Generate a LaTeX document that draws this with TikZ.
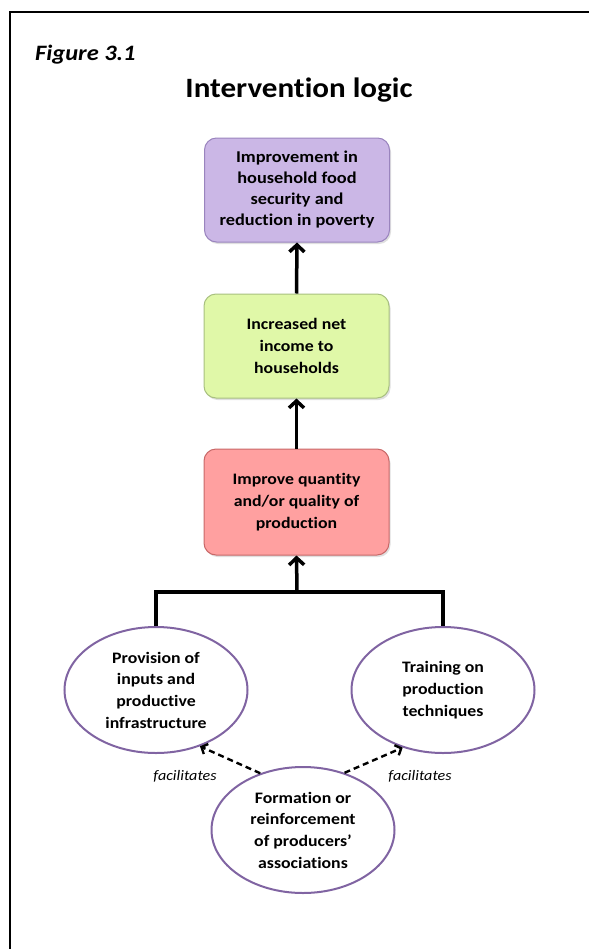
\documentclass[tikz,border=0pt]{standalone}
\usepackage{fontspec}
\setmainfont{Carlito}[FakeStretch=1.11,Ligatures=NoCommon]
\usetikzlibrary{arrows.meta,shapes.geometric,shadows}
\definecolor{purfill}{HTML}{CBB7E6}
\definecolor{purline}{HTML}{9A84BE}
\definecolor{grnfill}{HTML}{E0F8A8}
\definecolor{grnline}{HTML}{A8C080}
\definecolor{redfill}{HTML}{FFA0A0}
\definecolor{redline}{HTML}{C86868}
\definecolor{ellline}{HTML}{8064A2}
\begin{document}
\begin{tikzpicture}[x=1bp,y=-1bp,
  boxstyle/.style={rectangle, rounded corners=12bp, line width=1bp, minimum width=185bp, minimum height=105bp, align=center, inner sep=0pt,
     font=\fontsize{16bp}{21.7bp}\selectfont\bfseries, drop shadow={opacity=0.25, shadow xshift=1.5bp, shadow yshift=-2bp}},
  ellstyle/.style={ellipse, draw=ellline, fill=white, line width=2bp, minimum width=183bp, minimum height=126bp, align=center, inner sep=0pt,
     font=\fontsize{16bp}{21.7bp}\selectfont\bfseries},
  mainarrow/.style={line width=3.5bp, -{Straight Barb[length=7bp,width=15bp]}},
  bracketline/.style={line width=3.5bp},
  dasharrow/.style={line width=2.4bp, dash pattern=on 6bp off 4bp, -{Straight Barb[length=5bp,width=11bp]}},
  labelstyle/.style={font=\fontsize{14.5bp}{16bp}\selectfont\itshape}
]
\useasboundingbox (0,0) rectangle (589,949);
\draw[line width=1.5bp] (10,949) -- (10,12) -- (589,12);

\node[anchor=base west, inner sep=0pt, font=\fontsize{22bp}{26bp}\selectfont\bfseries\itshape] (fig) at (35,60) {Figure 3.1};
\node[anchor=base, font=\fontsize{28bp}{32bp}\selectfont\bfseries] (title) at (299,97) {Intervention logic};

\node[boxstyle, fill=purfill, draw=purline, minimum height=104bp, font=\fontsize{16.5bp}{21bp}\selectfont\bfseries] (goal) at (297,190)
  {Improvement in\\household food\\security and\\reduction in poverty};
\node[boxstyle, fill=grnfill, draw=grnline, minimum height=104bp] (income) at (296.5,346)
  {Increased net\\income to\\households};
\node[boxstyle, fill=redfill, draw=redline, minimum height=106bp] (prod) at (296.5,502)
  {Improve quantity\\and/or quality of\\production};

\node[ellstyle] (prov) at (156,690) {Provision of\\inputs and\\productive\\infrastructure};
\node[ellstyle] (train) at (443,690) {Training on\\production\\techniques};
\node[ellstyle] (assoc) at (303,830) {Formation or\\reinforcement\\of producers’\\associations};

\coordinate (join) at (297,592);
\draw[mainarrow] (income.north) -- (goal.south);
\draw[mainarrow] (prod.north) -- (income.south);
\draw[bracketline] (prov.north) |- (join) -| (train.north);
\draw[mainarrow] (join) -- (prod.south);

\draw[dasharrow] (assoc.127) -- (prov.-52);
\draw[dasharrow] (assoc.54) -- (train.-125);

\node[labelstyle] (lf) at (185,776) {facilitates};
\node[labelstyle] (rf) at (420,776) {facilitates};
\end{tikzpicture}
\end{document}
